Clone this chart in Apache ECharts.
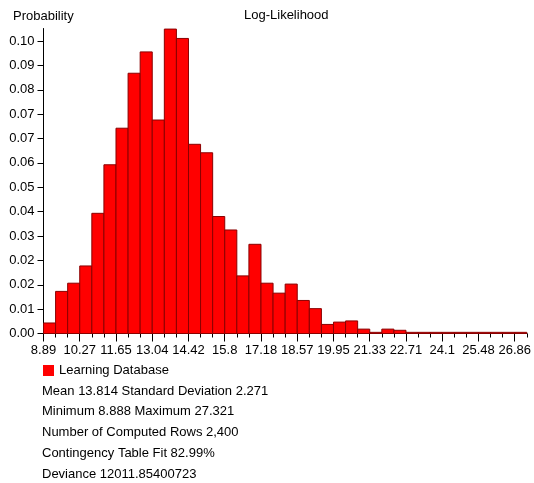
<!DOCTYPE html>
<html>
<head>
<meta charset="utf-8">
<script src="https://cdn.jsdelivr.net/npm/echarts@6/dist/echarts.min.js"></script>
<style>
html,body{margin:0;padding:0;background:#fff;}
#chart{width:534px;height:483px;}
</style>
</head>
<body>
<div id="chart"></div>
<script>
// ---- data ----
const seriesName = 'Learning Database';
const xAxisTitle = 'Log-Likelihood';
const yAxisTitle = 'Probability';
const rangeMin = 8.888;
const rangeMax = 27.321;
const binCount = 40;
const probability = [
  0.0036, 0.0144, 0.0172, 0.0231, 0.0411, 0.0577, 0.0702, 0.0890, 0.0963, 0.0730,
  0.1041, 0.1009, 0.0647, 0.0618, 0.0400, 0.0354, 0.0197, 0.0305, 0.0172, 0.0138,
  0.0169, 0.0113, 0.0085, 0.0031, 0.0039, 0.0043, 0.0015, 0.0004, 0.0015, 0.0011,
  0.0004, 0.0004, 0.0004, 0.0004, 0.0004, 0.0004, 0.0004, 0.0004, 0.0004, 0.0004
];
const xTickLabels = ['8.89','10.27','11.65','13.04','14.42','15.8','17.18','18.57','19.95','21.33','22.71','24.1','25.48','26.86'];
const yTickLabels = ['0.00','0.01','0.02','0.02','0.03','0.04','0.05','0.06','0.07','0.07','0.08','0.09','0.10'];
const statLines = [
  'Mean 13.814 Standard Deviation 2.271',
  'Minimum 8.888 Maximum 27.321',
  'Number of Computed Rows 2,400',
  'Contingency Table Fit 82.99%',
  'Deviance 12011.85400723'
];

// ---- derived ----
const binWidth = (rangeMax - rangeMin) / binCount;
const binEdges = [];
for (let i = 0; i <= binCount; i++) binEdges.push(rangeMin + i * binWidth);
const labelEdges = binEdges.filter((_, i) => i % 3 === 0 && i < binCount);
const yStep = 0.1 / (yTickLabels.length - 1);
const yTickValues = yTickLabels.map((_, i) => i * yStep);
const histData = probability.map((v, i) => [binEdges[i], binEdges[i + 1], v]);

const FONT = "'Liberation Sans', Arial, sans-serif";
const FS = 13;
const chart = echarts.init(document.getElementById('chart'), null, {renderer: 'canvas'});

const option = {
  animation: false,
  backgroundColor: '#fff',
  grid: {left: 43.5, right: 6, top: 28.5, bottom: 149.5, containLabel: false},
  legend: {
    left: 43, top: 364, padding: 0,
    itemWidth: 11, itemHeight: 11, itemGap: 10,
    icon: 'rect',
    textStyle: {fontFamily: FONT, fontSize: FS, color: '#000'},
    data: [seriesName]
  },
  xAxis: [{
    type: 'value', min: rangeMin, max: rangeMax,
    splitLine: {show: false},
    axisLine: {show: true, onZero: false, lineStyle: {color: '#000', width: 1}},
    axisTick: {show: true, length: 4, customValues: binEdges, lineStyle: {color: '#000'}},
    axisLabel: {show: false}
  }, {
    type: 'value', min: rangeMin, max: rangeMax, position: 'bottom', offset: 0,
    splitLine: {show: false},
    axisLine: {show: false},
    axisTick: {show: true, length: 8, customValues: labelEdges, lineStyle: {color: '#000'}},
    axisLabel: {
      show: true, margin: 10, customValues: labelEdges,
      fontFamily: FONT, fontSize: FS, color: '#000',
      formatter: function (v) {
        const idx = Math.round((v - rangeMin) / binWidth / 3);
        return xTickLabels[idx] !== undefined ? xTickLabels[idx] : '';
      }
    }
  }],
  yAxis: {
    type: 'value', min: 0, max: 0.1043,
    splitLine: {show: false},
    axisLine: {show: true, lineStyle: {color: '#000', width: 1}},
    axisTick: {show: true, length: 6, customValues: yTickValues, lineStyle: {color: '#000'}},
    axisLabel: {
      show: true, margin: 9, customValues: yTickValues,
      fontFamily: FONT, fontSize: FS, color: '#000',
      formatter: function (v) {
        const idx = Math.round(v / yStep);
        return yTickLabels[idx] !== undefined ? yTickLabels[idx] : '';
      }
    }
  },
  series: [{
    name: seriesName,
    type: 'custom',
    xAxisIndex: 0, yAxisIndex: 0,
    itemStyle: {color: '#ff0000'},
    encode: {x: [0, 1], y: 2},
    data: histData,
    renderItem: function (params, api) {
      const p0 = api.coord([api.value(0), api.value(2)]);
      const p1 = api.coord([api.value(1), 0]);
      return {
        type: 'rect',
        shape: {x: p0[0], y: p0[1], width: p1[0] - p0[0], height: p1[1] - p0[1]},
        style: {fill: '#ff0000', stroke: '#8a0000', lineWidth: 1}
      };
    }
  }],
  graphic: [
    {type: 'text', x: 13, y: 16, style: {text: yAxisTitle, font: FS + 'px ' + FONT, fill: '#000', verticalAlign: 'middle'}},
    {type: 'text', x: 244, y: 15.5, style: {text: xAxisTitle, font: FS + 'px ' + FONT, fill: '#000', verticalAlign: 'middle'}}
  ].concat(statLines.map((t, i) => ({
    type: 'text', x: 42, y: 391 + i * 20.8,
    style: {text: t, font: FS + 'px ' + FONT, fill: '#000', verticalAlign: 'middle'}
  })))
};
chart.setOption(option);
</script>
</body>
</html>
